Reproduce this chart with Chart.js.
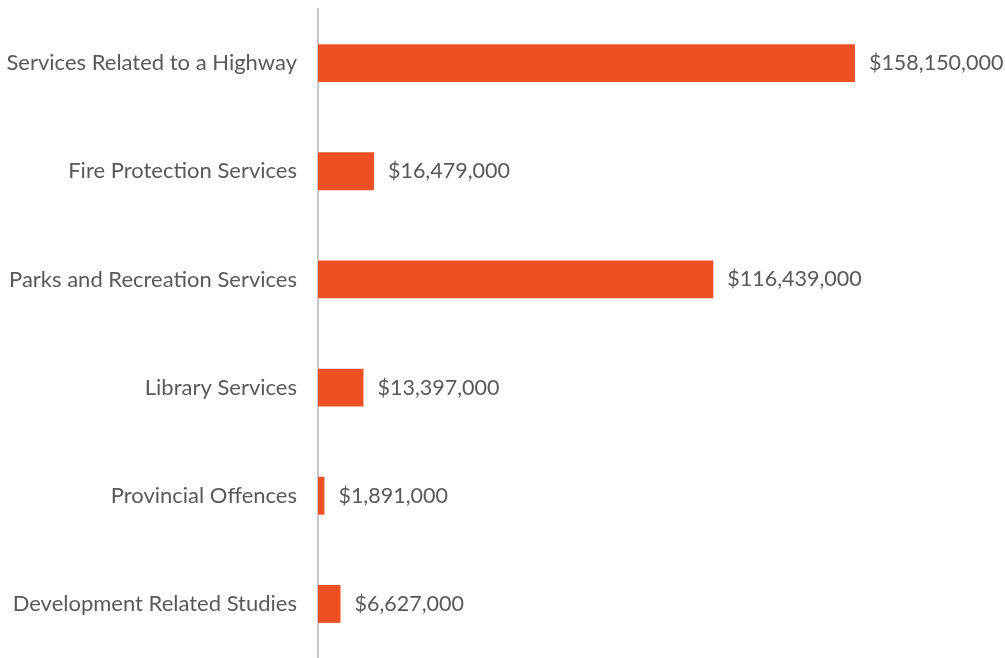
<!DOCTYPE html>
<html>
<head>
<meta charset="utf-8">
<script src="https://cdn.jsdelivr.net/npm/chart.js@4/dist/chart.umd.min.js"></script>
<style>
  html, body { margin: 0; padding: 0; background: #fff; }
  #wrap { width: 1005px; height: 658px; }
</style>
</head>
<body>
<div id="wrap"><canvas id="dcChart"></canvas></div>
<script>
const services = [
    "Services Related to a Highway",
    "Fire Protection Services",
    "Parks and Recreation Services",
    "Library Services",
    "Provincial Offences",
    "Development Related Studies"
];
const costs = [158150000, 16479000, 116439000, 13397000, 1891000, 6627000];

const fontFamily = "Lato, 'Open Sans', sans-serif";
const fontSize = 22;
const textColor = "#595959";

function money(v) {
    return "$" + v.toLocaleString("en-US");
}

// writes the dollar amount just past the end of each bar
const valueLabels = {
    id: "valueLabels",
    afterDatasetsDraw(chart) {
        const ctx = chart.ctx;
        const meta = chart.getDatasetMeta(0);
        ctx.save();
        ctx.font = "21.5px " + fontFamily;
        ctx.fillStyle = textColor;
        ctx.textAlign = "left";
        ctx.textBaseline = "middle";
        meta.data.forEach(function (bar, i) {
            ctx.fillText(money(costs[i]), bar.x + 14, bar.y);
        });
        ctx.restore();
    }
};

const ctx = document.getElementById("dcChart").getContext("2d");
new Chart(ctx, {
    type: "bar",
    data: {
        labels: services,
        datasets: [{
            data: costs,
            backgroundColor: "#EE5024",
            categoryPercentage: 1,
            barPercentage: 0.35
        }]
    },
    options: {
        indexAxis: "y",
        responsive: true,
        maintainAspectRatio: false,
        animation: false,
        layout: { padding: { top: 9, right: 8, bottom: 0, left: 0 } },
        scales: {
            x: {
                display: false,
                min: 0,
                max: 200000000
            },
            y: {
                afterFit: function (scale) {
                    scale.width = 318;
                    // labels sit in the middle of their bands, no room needed above/below
                    scale.paddingTop = 0;
                    scale.paddingBottom = 0;
                },
                // invisible tick marks keep the labels off the axis line
                grid: {
                    display: true,
                    drawOnChartArea: false,
                    drawTicks: true,
                    tickLength: 21,
                    color: "rgba(0,0,0,0)"
                },
                border: { display: true, color: "#C8C8C8", width: 2 },
                ticks: {
                    color: textColor,
                    padding: 0,
                    font: { family: fontFamily, size: fontSize }
                }
            }
        },
        plugins: {
            legend: { display: false },
            tooltip: { enabled: false }
        }
    },
    plugins: [valueLabels]
});
</script>
</body>
</html>
